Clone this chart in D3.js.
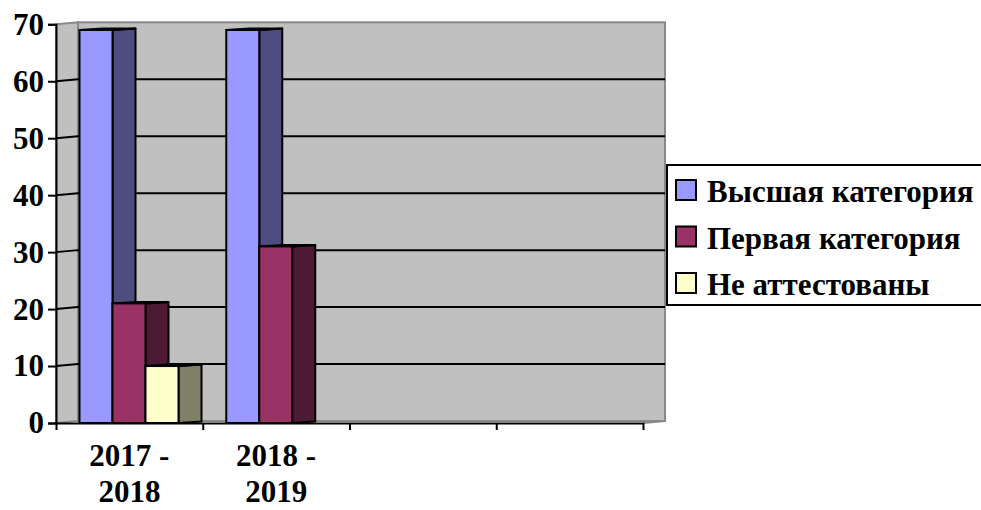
<!DOCTYPE html>
<html>
<head>
<meta charset="utf-8">
<script src="https://cdn.jsdelivr.net/npm/d3@7"></script>
</head>
<body style="margin:0">
<svg id="chart" width="981" height="510"></svg>
<script>
// Data
const categoryLabels = [["2017 -", "2018"], ["2018 -", "2019"], [], []];
const seriesNames = ["Высшая категория", "Первая категория", "Не аттестованы"];
const highest = [69, 69, null, null];
const first = [21, 31, null, null];
const notCertified = [10, null, null, null];
const yTicks = [0, 10, 20, 30, 40, 50, 60, 70];

const seriesValues = [highest, first, notCertified];
const frontColors = ["#9999FF", "#993366", "#FFFFCC"];
const sideColors = ["#4D4D80", "#4D1A33", "#808066"];

// Bold serif text styling applied directly on each text node
function serifText(sel, size) {
  return sel.attr("font-family", "Liberation Serif")
    .style("font-family", '"Liberation Serif"')
    .attr("font-weight", "bold")
    .attr("font-size", size)
    .attr("fill", "#000");
}

const svg = d3.select("#chart");
const W = 981, H = 510;
svg.append("rect").attr("width", W).attr("height", H).attr("fill", "#fff");

// Front plane of the plot and wall depth
const plotLeft = 56, plotRight = 643, plotBottom = 423, plotTop = 24.3;
const depthX = 22, depthY = -2;      // walls
const barDX = 23, barDY = -1.5;      // bar depth

const y = d3.scaleLinear().domain([0, 70]).range([plotBottom, plotTop]);
const x0 = d3.scaleBand().domain(d3.range(categoryLabels.length)).range([plotLeft, plotRight]);
const x1 = d3.scaleBand().domain(seriesNames).range([23.5, 23.5 + 99]);
const xEdge = d3.scaleLinear().domain([0, categoryLabels.length]).range([plotLeft, plotRight]);

const wallFill = "#C0C0C0", wallEdge = "#888888";
const g = svg.append("g");

// Back wall
g.append("rect")
  .attr("x", plotLeft + depthX).attr("y", y(70) + depthY)
  .attr("width", plotRight - plotLeft).attr("height", y(0) - y(70))
  .attr("fill", wallFill).attr("stroke", wallEdge).attr("stroke-width", 2);

// Side wall (left)
g.append("path")
  .attr("d", d3.line()([
    [plotLeft, y(70)], [plotLeft + depthX, y(70) + depthY],
    [plotLeft + depthX, y(0) + depthY], [plotLeft, y(0)]
  ]) + "Z")
  .attr("fill", wallFill).attr("stroke", wallEdge).attr("stroke-width", 2);

// Floor edge at the right
g.append("path")
  .attr("d", d3.line()([[plotRight, y(0)], [plotRight + depthX, y(0) + depthY]]))
  .attr("stroke", wallEdge).attr("stroke-width", 2).attr("fill", "none");

// Gridlines across side wall and back wall
const gridVals = yTicks.filter(v => v > 0 && v < 70);
g.selectAll("path.grid").data(gridVals).enter().append("path")
  .attr("class", "grid")
  .attr("d", v => d3.line()([
    [plotLeft, y(v)], [plotLeft + depthX, y(v) + depthY], [plotRight + depthX, y(v) + depthY]
  ]))
  .attr("fill", "none").attr("stroke", "#000").attr("stroke-width", 2);

// Bars: side face, top face, front face
seriesValues.forEach((vals, si) => {
  vals.forEach((v, ci) => {
    if (v == null || v <= 0) return;
    const xl = x0(ci) + x1(seriesNames[si]);
    const xr = xl + x1.bandwidth();
    const yt = y(v), yb = y(0);
    const bar = g.append("g");
    bar.append("path")
      .attr("d", d3.line()([[xr, yt], [xr + barDX, yt + barDY], [xr + barDX, yb + barDY], [xr, yb]]) + "Z")
      .attr("fill", sideColors[si]).attr("stroke", "#000").attr("stroke-width", 2)
      .attr("stroke-linejoin", "round");
    bar.append("path")
      .attr("d", d3.line()([[xl, yt], [xl + barDX, yt + barDY], [xr + barDX, yt + barDY], [xr, yt]]) + "Z")
      .attr("fill", frontColors[si]).attr("stroke", "#000").attr("stroke-width", 2)
      .attr("stroke-linejoin", "round");
    bar.append("rect")
      .attr("x", xl).attr("y", yt).attr("width", xr - xl).attr("height", yb - yt)
      .attr("fill", frontColors[si]).attr("stroke", "#000").attr("stroke-width", 2);
  });
});

// Value axis
const yAxis = svg.append("g")
  .attr("transform", `translate(${plotLeft},0)`)
  .call(d3.axisLeft(y).tickValues(yTicks).tickSize(8).tickPadding(4).tickFormat(d3.format("d")));
yAxis.attr("font-family", "Liberation Serif").attr("font-size", 31);
yAxis.select(".domain").attr("stroke", "#000").attr("stroke-width", 2);
yAxis.selectAll(".tick line").attr("stroke", "#000").attr("stroke-width", 2);
serifText(yAxis.selectAll(".tick text"), 31);

// Category axis
const xAxis = svg.append("g")
  .attr("transform", `translate(0,${plotBottom})`)
  .call(d3.axisBottom(xEdge).tickValues(d3.range(categoryLabels.length + 1)).tickSize(7).tickSizeOuter(0).tickFormat(""));
xAxis.select(".domain").attr("stroke", "#000").attr("stroke-width", 2);
xAxis.selectAll(".tick line").attr("stroke", "#000").attr("stroke-width", 2);

const catLabels = svg.append("g");
categoryLabels.forEach((lines, ci) => {
  const cx = x0(ci) + x0.bandwidth() / 2;
  lines.forEach((t, li) => {
    serifText(catLabels.append("text"), 31)
      .attr("x", cx).attr("y", 466 + li * 36)
      .attr("text-anchor", "middle")
      .text(t);
  });
});

// Legend
const legend = svg.append("g");
legend.append("rect")
  .attr("x", 667).attr("y", 165).attr("width", 330).attr("height", 140)
  .attr("fill", "#fff").attr("stroke", "#000").attr("stroke-width", 2);
seriesNames.forEach((name, i) => {
  const cy = 190 + i * 46.5;
  legend.append("rect")
    .attr("x", 676).attr("y", cy - 10).attr("width", 20).attr("height", 20)
    .attr("fill", frontColors[i]).attr("stroke", "#000").attr("stroke-width", 2);
  serifText(legend.append("text"), 31)
    .attr("x", 707).attr("y", cy + 12)
    .text(name);
});
</script>
</body>
</html>
